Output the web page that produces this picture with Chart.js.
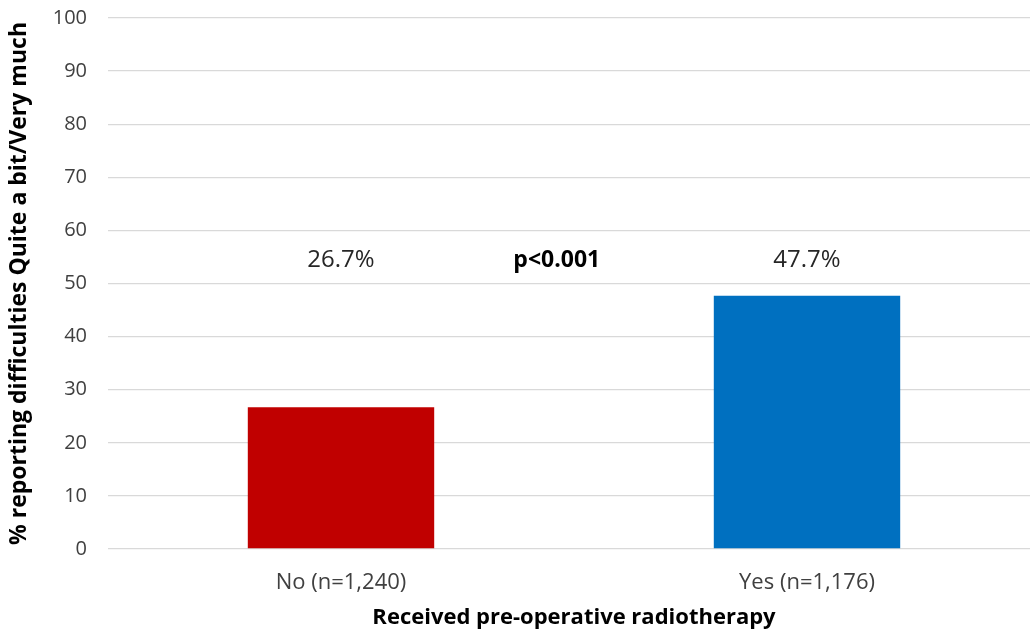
<!DOCTYPE html>
<html lang="en">
<head>
    <meta charset="UTF-8">
    <title>Pre-operative radiotherapy</title>
    <script src="https://cdn.jsdelivr.net/npm/chart.js"></script>
    <style>
        html, body { margin: 0; padding: 0; background: #fff; overflow: hidden; }
        #wrap { width: 1042px; height: 639px; }
    </style>
</head>
<body>
    <div id="wrap"><canvas id="myChart"></canvas></div>
    <script>
        const categories = ['No (n=1,240)', 'Yes (n=1,176)'];
        const percentages = [26.7, 47.7];
        const barColors = ['#C00000', '#0070C0'];
        const yTicks = [0, 10, 20, 30, 40, 50, 60, 70, 80, 90, 100];
        const pValue = 'p<0.001';

        const FONT = "'Open Sans', sans-serif";

        // percentage labels sit on one line above both bars, p-value in between
        const labelPlugin = {
            id: 'barLabels',
            afterDatasetsDraw(chart) {
                const ctx = chart.ctx;
                const x = chart.scales.x;
                const y = chart.scales.y;
                const ly = y.getPixelForValue(54.4);
                ctx.save();
                ctx.textAlign = 'center';
                ctx.textBaseline = 'middle';
                ctx.fillStyle = '#262626';
                ctx.font = '24px ' + FONT;
                percentages.forEach(function(v, i) {
                    ctx.fillText(v.toFixed(1) + '%', x.getPixelForValue(i), ly);
                });
                const x0 = x.getPixelForValue(0), x1 = x.getPixelForValue(1);
                ctx.font = 'bold 23px ' + FONT;
                ctx.fillStyle = '#000';
                ctx.fillText(pValue, x0 + (x1 - x0) * 0.463, ly);
                ctx.restore();
            }
        };

        new Chart(document.getElementById('myChart'), {
            type: 'bar',
            data: {
                labels: categories,
                datasets: [{
                    data: percentages,
                    backgroundColor: barColors,
                    barPercentage: 0.4,
                    categoryPercentage: 1.0
                }]
            },
            plugins: [labelPlugin],
            options: {
                responsive: true,
                maintainAspectRatio: false,
                animation: false,
                layout: { padding: { top: 18, right: 2, left: 0, bottom: 0 } },
                plugins: {
                    legend: { display: false },
                    tooltip: { enabled: false }
                },
                scales: {
                    x: {
                        grid: { display: false },
                        border: { display: false },
                        ticks: {
                            color: '#404040',
                            font: { family: FONT, size: 22 },
                            padding: 13
                        },
                        title: {
                            display: true,
                            text: 'Received pre-operative radiotherapy',
                            color: '#000',
                            font: { family: FONT, size: 22, weight: 'bold' },
                            padding: { top: 0, bottom: 8 }
                        },
                        afterFit(scale) { scale.height = 90; }
                    },
                    y: {
                        min: 0,
                        max: 100,
                        afterBuildTicks(scale) {
                            scale.ticks = yTicks.map(function(v) { return { value: v }; });
                        },
                        // invisible tick marks keep the labels away from the plot
                        grid: { color: '#d9d9d9', lineWidth: 1.3, tickColor: 'rgba(0,0,0,0)', tickLength: 18 },
                        border: { display: false },
                        ticks: {
                            color: '#404040',
                            font: { family: FONT, size: 20 },
                            padding: 3
                        },
                        title: {
                            display: true,
                            text: '% reporting difficulties Quite a bit/Very much',
                            color: '#000',
                            font: { family: FONT, size: 23, weight: 'bold' },
                            padding: { top: 6, bottom: 0 }
                        },
                        afterFit(scale) { scale.width = 108; }
                    }
                }
            }
        });
    </script>
</body>
</html>
